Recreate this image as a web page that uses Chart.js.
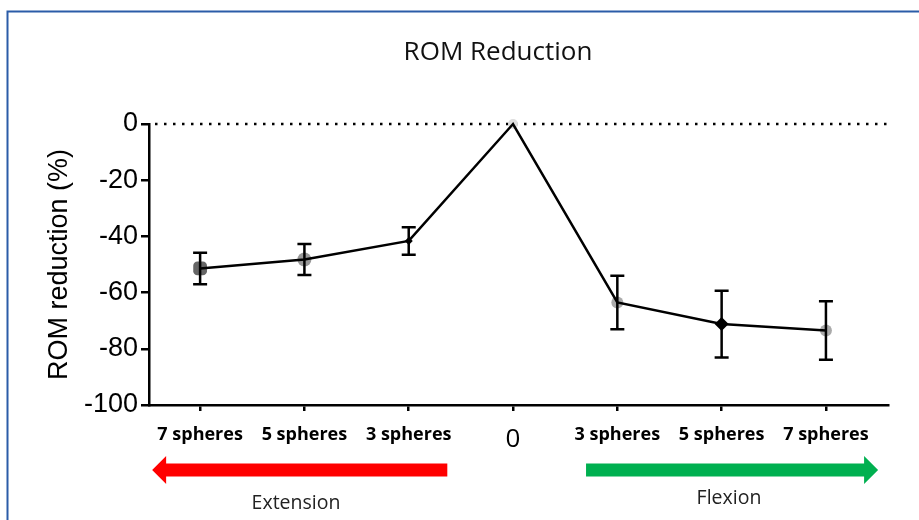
<!DOCTYPE html>
<html>
<head>
<meta charset="utf-8">
<script src="https://cdn.jsdelivr.net/npm/chart.js@4.4.1/dist/chart.umd.min.js"></script>
<style>
  body { margin: 0; background: #fff; }
  canvas { display: block; }
</style>
</head>
<body>
<canvas id="romChart" width="919" height="520"></canvas>
<script>
// data
const xLabels = ['7 spheres', '5 spheres', '3 spheres', '0', '3 spheres', '5 spheres', '7 spheres'];
const romMean = [-51.4, -48.2, -41.6, 0, -63.5, -71.2, -73.5];
const romSd = [5.6, 5.5, 4.9, 0, 9.5, 11.9, 10.4];
const yTicks = [0, -20, -40, -60, -80, -100];

const points = romMean.map((v, i) => ({ x: i, y: v }));

// background, blue frame and the title
const framePlugin = {
  id: 'frame',
  beforeDraw(chart) {
    const ctx = chart.ctx;
    ctx.save();
    ctx.fillStyle = '#fff';
    ctx.fillRect(0, 0, chart.width, chart.height);
    ctx.strokeStyle = '#2b5ca8';
    ctx.lineWidth = 2;
    ctx.beginPath();
    ctx.moveTo(7.5, chart.height);
    ctx.lineTo(7.5, 11.5);
    ctx.lineTo(chart.width, 11.5);
    ctx.stroke();

    ctx.fillStyle = '#111';
    ctx.font = '26px "Open Sans"';
    ctx.textAlign = 'center';
    ctx.textBaseline = 'middle';
    ctx.fillText('ROM Reduction', 498, 53);
    ctx.restore();
  }
};

// dotted zero line
const zeroLinePlugin = {
  id: 'zeroLine',
  beforeDatasetsDraw(chart) {
    const ctx = chart.ctx;
    const y = chart.scales.y.getPixelForValue(0);
    ctx.save();
    ctx.strokeStyle = '#000';
    ctx.lineWidth = 2.5;
    ctx.setLineDash([2.5, 6.5]);
    ctx.beginPath();
    ctx.moveTo(chart.chartArea.left + 6, y);
    ctx.lineTo(chart.chartArea.right, y);
    ctx.stroke();
    ctx.restore();
  }
};

// error bars (mean +/- sd)
const errorBarPlugin = {
  id: 'errorBars',
  afterDatasetsDraw(chart) {
    const ctx = chart.ctx;
    const xs = chart.scales.x;
    const ys = chart.scales.y;
    ctx.save();
    ctx.strokeStyle = '#000';
    ctx.lineWidth = 2.5;
    romMean.forEach((m, i) => {
      if (!romSd[i]) return;
      const x = xs.getPixelForValue(i);
      const top = ys.getPixelForValue(m + romSd[i]);
      const bot = ys.getPixelForValue(m - romSd[i]);
      ctx.beginPath();
      ctx.moveTo(x, top);
      ctx.lineTo(x, bot);
      ctx.moveTo(x - 7, top);
      ctx.lineTo(x + 7, top);
      ctx.moveTo(x - 7, bot);
      ctx.lineTo(x + 7, bot);
      ctx.stroke();
    });
    ctx.restore();
  }
};

// direction arrows under the x axis
const arrowPlugin = {
  id: 'arrows',
  afterDraw(chart) {
    const ctx = chart.ctx;
    const xs = chart.scales.x;
    const y = 470;

    function arrow(fromVal, toVal, color) {
      const x0 = xs.getPixelForValue(fromVal);
      const x1 = xs.getPixelForValue(toVal);
      const dir = Math.sign(x1 - x0);
      const headLen = 14;
      ctx.fillStyle = color;
      ctx.beginPath();
      ctx.moveTo(x0, y - 6.5);
      ctx.lineTo(x1 - dir * headLen, y - 6.5);
      ctx.lineTo(x1 - dir * headLen, y - 14);
      ctx.lineTo(x1, y);
      ctx.lineTo(x1 - dir * headLen, y + 14);
      ctx.lineTo(x1 - dir * headLen, y + 6.5);
      ctx.lineTo(x0, y + 6.5);
      ctx.closePath();
      ctx.fill();
    }

    ctx.save();
    arrow(2.37, -0.46, '#ff0000');
    arrow(3.70, 6.50, '#00b050');
    ctx.fillStyle = '#222';
    ctx.font = '19.5px "Open Sans"';
    ctx.textAlign = 'center';
    ctx.textBaseline = 'middle';
    ctx.fillText('Extension', 296, 503);
    ctx.fillText('Flexion', 729, 498);
    ctx.restore();
  }
};

new Chart(document.getElementById('romChart'), {
  type: 'scatter',
  data: {
    datasets: [
      {
        // markers (behind the line)
        data: points,
        showLine: false,
        order: 2,
        pointStyle: ['rectRounded', 'circle', 'rectRot', 'circle', 'circle', 'rectRot', 'circle'],
        pointRadius: [8, 7, 4, 5, 6, 7, 6],
        pointBackgroundColor: ['#666', '#999', '#000', '#ddd', '#aaa', '#000', '#aaa'],
        pointBorderWidth: 0,
        clip: false
      },
      {
        data: points,
        showLine: true,
        order: 1,
        borderColor: '#000',
        borderWidth: 2.5,
        pointRadius: 0,
        tension: 0,
        clip: false
      }
    ]
  },
  options: {
    responsive: false,
    animation: false,
    events: [],
    layout: { padding: { left: 0, right: 31, top: 124, bottom: 0 } },
    plugins: {
      legend: { display: false },
      tooltip: { enabled: false },
      title: { display: false }
    },
    scales: {
      x: {
        type: 'linear',
        min: -0.49,
        max: 6.595,
        afterFit(scale) { scale.height = 115; },
        afterBuildTicks(scale) { scale.ticks = xLabels.map((_, i) => ({ value: i })); },
        border: { display: true, color: '#000', width: 2.5 },
        grid: { drawOnChartArea: false, drawTicks: true, tickLength: 6, color: '#000', lineWidth: 2.5 },
        ticks: {
          padding: 13,
          color: '#000',
          maxRotation: 0,
          autoSkip: false,
          callback: (v) => xLabels[v],
          font: (c) => c.index === 3
            ? { family: 'Open Sans', size: 26, weight: 'normal' }
            : { family: 'Open Sans', size: 18, weight: 'bold' }
        }
      },
      y: {
        min: -100,
        max: 0,
        afterFit(scale) { scale.width = 149; },
        afterBuildTicks(scale) { scale.ticks = yTicks.map(v => ({ value: v })); },
        border: { display: true, color: '#000', width: 2.5 },
        grid: { drawOnChartArea: false, drawTicks: true, tickLength: 8, color: '#000', lineWidth: 2.5 },
        ticks: {
          padding: 3,
          color: '#000',
          font: { family: 'Liberation Sans', size: 27 }
        },
        title: {
          display: true,
          text: 'ROM reduction (%)',
          color: '#000',
          font: { family: 'Liberation Sans', size: 27 },
          padding: { top: 43, bottom: 0 }
        }
      }
    }
  },
  plugins: [framePlugin, zeroLinePlugin, errorBarPlugin, arrowPlugin]
});
</script>
</body>
</html>
